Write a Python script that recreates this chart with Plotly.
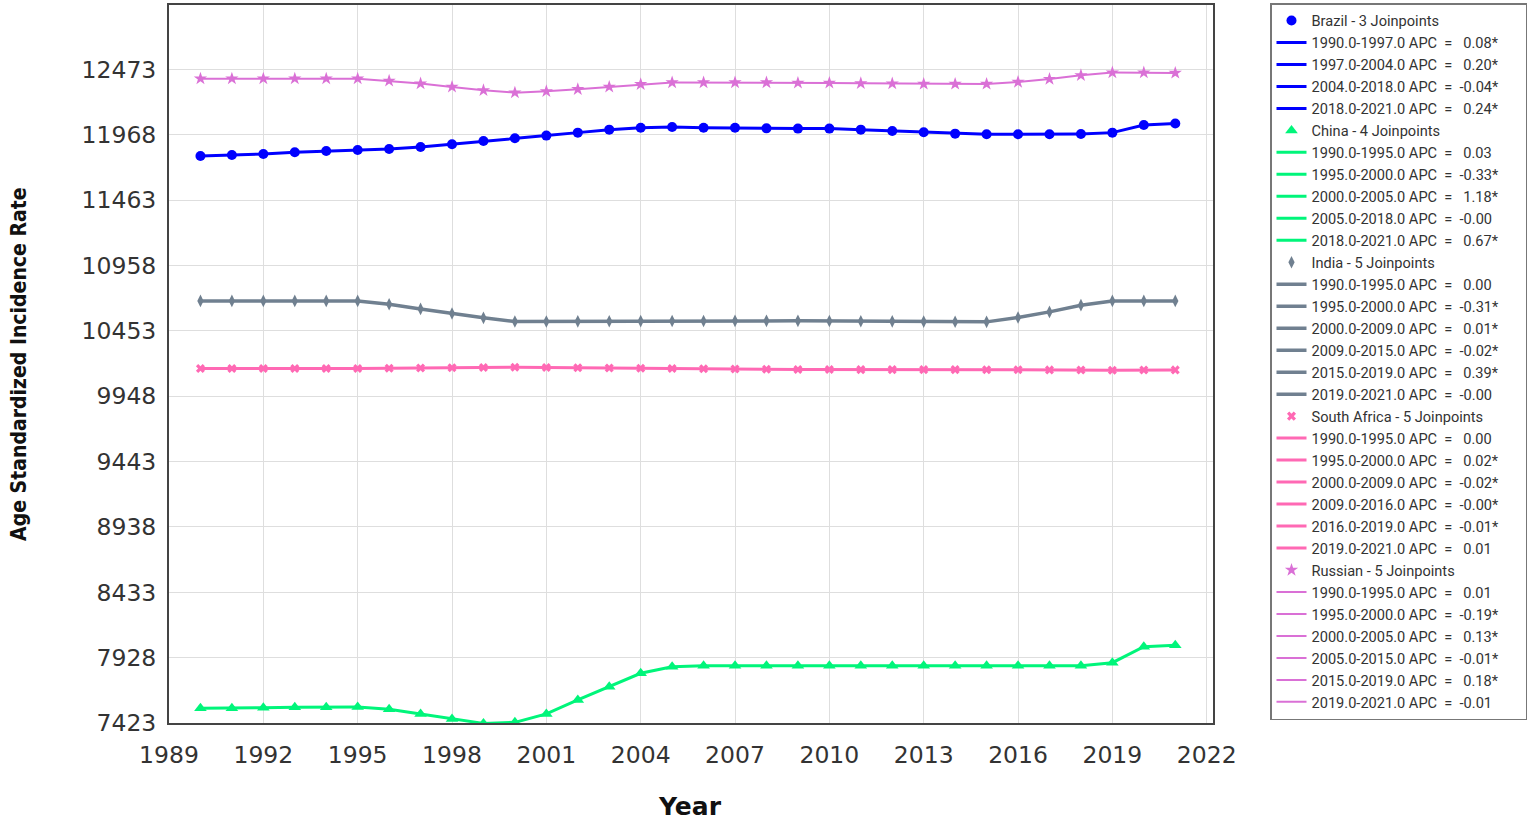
import plotly.graph_objects as go

YEARS = list(range(1990, 2022))

BRAZIL = [11804, 11811, 11819, 11832, 11842, 11850, 11857, 11873, 11894, 11919,
          11940, 11961, 11984, 12007, 12022, 12027, 12022, 12022, 12017, 12015,
          12015, 12007, 11997, 11987, 11976, 11971, 11971, 11971, 11973, 11984,
          12043, 12054]
CHINA = [7536, 7536, 7541, 7544, 7544, 7547, 7529, 7493, 7454, 7420,
         7428, 7493, 7601, 7703, 7807, 7858, 7865, 7865, 7865, 7865,
         7865, 7865, 7865, 7865, 7865, 7865, 7865, 7865, 7866, 7889,
         8012, 8023]
INDIA = [10684, 10684, 10684, 10684, 10684, 10684, 10658, 10622, 10587, 10553,
         10525, 10525, 10526, 10527, 10528, 10529, 10529, 10530, 10530, 10530,
         10529, 10527, 10526, 10524, 10523, 10522, 10556, 10599, 10651, 10684,
         10684, 10684]
SOUTH_AFRICA = [10162, 10162, 10162, 10162, 10162, 10162, 10164, 10166, 10168, 10170,
                10172, 10170, 10168, 10166, 10164, 10162, 10160, 10158, 10156, 10154,
                10154, 10153, 10153, 10153, 10153, 10152, 10152, 10151, 10150, 10149,
                10150, 10151]
RUSSIA = [12401, 12401, 12401, 12401, 12401, 12401, 12384, 12363, 12337, 12311,
          12293, 12303, 12319, 12337, 12358, 12371, 12371, 12371, 12371, 12368,
          12368, 12365, 12363, 12360, 12360, 12360, 12375, 12398, 12427, 12448,
          12448, 12445]

# joinpoint segments: (start, end, APC text)
BRAZIL_SEGS = [(1990, 1997, " 0.08*"), (1997, 2004, " 0.20*"),
               (2004, 2018, "-0.04*"), (2018, 2021, " 0.24*")]
CHINA_SEGS = [(1990, 1995, " 0.03"), (1995, 2000, "-0.33*"), (2000, 2005, " 1.18*"),
              (2005, 2018, "-0.00"), (2018, 2021, " 0.67*")]
INDIA_SEGS = [(1990, 1995, " 0.00"), (1995, 2000, "-0.31*"), (2000, 2009, " 0.01*"),
              (2009, 2015, "-0.02*"), (2015, 2019, " 0.39*"), (2019, 2021, "-0.00")]
SA_SEGS = [(1990, 1995, " 0.00"), (1995, 2000, " 0.02*"), (2000, 2009, "-0.02*"),
           (2009, 2016, "-0.00*"), (2016, 2019, "-0.01*"), (2019, 2021, " 0.01")]
RUSSIA_SEGS = [(1990, 1995, " 0.01"), (1995, 2000, "-0.19*"), (2000, 2005, " 0.13*"),
               (2005, 2015, "-0.01*"), (2015, 2019, " 0.18*"), (2019, 2021, "-0.01")]

Y_TICKS = [7423, 7928, 8433, 8938, 9443, 9948, 10453, 10958, 11463, 11968, 12473]
X_TICKS = [1989, 1992, 1995, 1998, 2001, 2004, 2007, 2010, 2013, 2016, 2019, 2022]

SERIES = [
    ("Brazil - 3 Joinpoints", BRAZIL, BRAZIL_SEGS, "#0000FF", "circle", 10, 3),
    ("China - 4 Joinpoints", CHINA, CHINA_SEGS, "#00F57A", "triangle-up", 11, 3),
    ("India - 5 Joinpoints", INDIA, INDIA_SEGS, "#708090", "diamond-tall", 9, 3.5),
    ("South Africa - 5 Joinpoints", SOUTH_AFRICA, SA_SEGS, "#FF69B4", "x", 8, 3),
    ("Russian - 5 Joinpoints", RUSSIA, RUSSIA_SEGS, "#DA70D6", "star", 10, 2),
]

NB = "\u00a0"
PAD = NB * 6  # right padding inside the legend box

fig = go.Figure()
for name, values, segs, color, symbol, msize, lw in SERIES:
    fig.add_trace(go.Scatter(
        x=YEARS, y=values, mode="markers", name=name,
        marker=dict(color=color, symbol=symbol, size=msize),
    ))
    # fitted joinpoint segments
    for a, b, apc in segs:
        i0, i1 = YEARS.index(a), YEARS.index(b)
        label = f"{a}.0-{b}.0 APC {NB}={NB} {apc.replace(' ', NB)}{PAD}"
        fig.add_trace(go.Scatter(
            x=YEARS[i0:i1 + 1], y=values[i0:i1 + 1], mode="lines", name=label,
            line=dict(color=color, width=lw),
        ))

axis_common = dict(
    showgrid=True, gridcolor="#dedede", gridwidth=1,
    showline=True, linecolor="#444444", linewidth=2, mirror=True,
    zeroline=False, ticks="", automargin=False,
    tickfont=dict(family="DejaVu Sans", size=23.5, color="#333333"),
)
fig.update_xaxes(range=[1989, 2022.2], tickvals=X_TICKS, tickformat="d",
                 ticklabelstandoff=10, **axis_common)
fig.update_yaxes(range=[7423, 12970], tickvals=Y_TICKS, tickformat="d",
                 ticklabelstandoff=6, **axis_common)

fig.update_layout(
    width=1535, height=820,
    margin=dict(l=169, r=322, t=5, b=97),
    plot_bgcolor="white", paper_bgcolor="white",
    font=dict(family="Roboto", color="#333333"),
    legend=dict(
        xref="container", yref="container", x=1270 / 1535, y=1 - 3 / 820,
        xanchor="left", yanchor="top", maxheight=760,
        bgcolor="white", bordercolor="#777777", borderwidth=1.5,
        font=dict(family="Roboto", size=14.6, color="#333333"),
        traceorder="normal", tracegroupgap=0,
    ),
    annotations=[
        dict(text="<b>Age Standardized Incidence Rate</b>", xref="paper", yref="paper",
             x=-0.1437, y=0.5, xanchor="center", yanchor="middle", textangle=-90,
             showarrow=False, font=dict(family="DejaVu Sans Condensed", size=21, color="#111111")),
        dict(text="<b>Year</b>", xref="paper", yref="paper",
             x=0.499, y=-0.1156, xanchor="center", yanchor="middle",
             showarrow=False, font=dict(family="DejaVu Sans", size=25, color="#111111")),
    ],
)

fig.write_html("out.html", config={"displayModeBar": False},
               post_script="document.body.style.margin = '0';")
